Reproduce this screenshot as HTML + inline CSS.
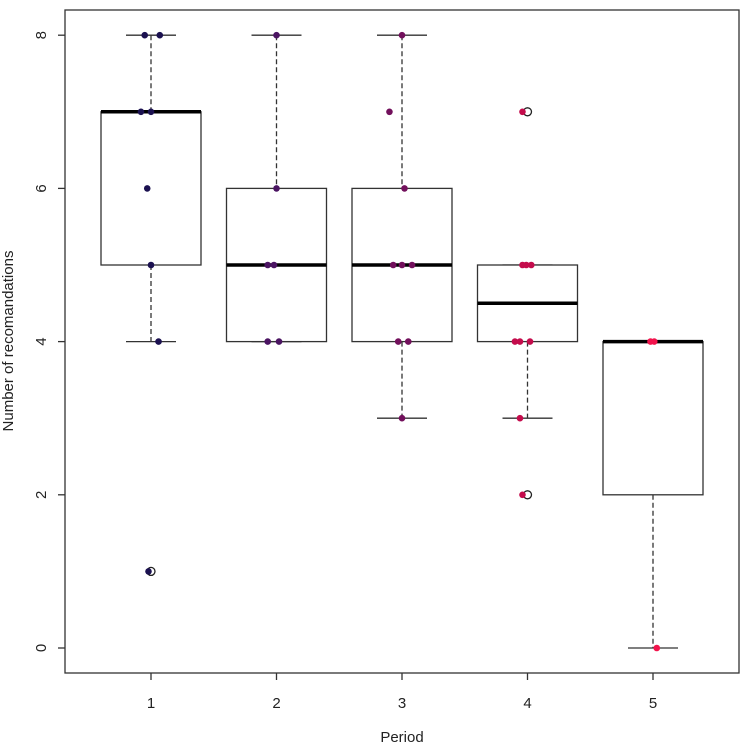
<!DOCTYPE html>
<html><head><meta charset="utf-8"><style>body{margin:0;background:#fff}svg{font-family:"Liberation Sans",sans-serif}</style></head>
<body>
<svg id="c" width="744" height="745"></svg>
<script>
const categories=["1","2","3","4","5"];
const q1=[5,4,4,4,2], med=[7,5,5,4.5,4], q3=[7,6,6,5,4], wLo=[4,4,3,3,0], wHi=[8,8,8,5,4];
const outlierGroup=[0,3,3], outlierVal=[1,7,2];
const ptGroup=[0,0,0,0,0,0,0,0, 1,1,1,1,1,1, 2,2,2,2,2,2,2,2,2, 3,3,3,3,3,3,3,3,3, 4,4,4];
const ptVal=[8,8,7,7,6,5,4,1, 8,6,5,5,4,4, 8,7,6,5,5,5,4,4,3, 7,5,5,5,4,4,4,3,2, 4,4,0];
const ptJit=[-.05,.07,-.08,0,-.03,0,.06,-.02, 0,0,-.07,-.02,-.07,.02, 0,-.1,.02,-.07,0,.08,-.03,.05,0, -.04,-.04,-.01,.03,-.1,-.06,.02,-.06,-.04, -.02,.01,.03];
const yTicks=[0,2,4,6,8];
const colors=["#1b1150","#4b1462","#72105c","#c40c4c","#f2134c"];
const ns="http://www.w3.org/2000/svg", svg=document.getElementById('c');
const X=i=>151+i*125.5, Y=v=>648-v*76.6;
function el(t,a,p){const e=document.createElementNS(ns,t);for(const k in a)e.setAttribute(k,a[k]);(p||svg).appendChild(e);return e;}
const frame=el('rect',{x:65,y:10,width:674,height:663,fill:'none',stroke:'#333','stroke-width':1.3});


categories.forEach((c,i)=>{
  const g=el('g',{});
  
  
  const x=X(i);
  if(wHi[i]>q3[i]){el('line',{x1:x,x2:x,y1:Y(wHi[i]),y2:Y(q3[i]),stroke:'#333','stroke-dasharray':'5,3','stroke-width':1.3},g);}
  if(wLo[i]<q1[i]){el('line',{x1:x,x2:x,y1:Y(q1[i]),y2:Y(wLo[i]),stroke:'#333','stroke-dasharray':'5,3','stroke-width':1.3},g);}
  el('line',{x1:x-25,x2:x+25,y1:Y(wHi[i]),y2:Y(wHi[i]),stroke:'#333','stroke-width':1.3},g);
  el('line',{x1:x-25,x2:x+25,y1:Y(wLo[i]),y2:Y(wLo[i]),stroke:'#333','stroke-width':1.3},g);
  el('rect',{x:x-50,y:Y(q3[i]),width:100,height:Y(q1[i])-Y(q3[i]),fill:'#fff',stroke:'#333','stroke-width':1.3},g);
  el('line',{x1:x-50,x2:x+50,y1:Y(med[i]),y2:Y(med[i]),stroke:'#000','stroke-width':3.5},g);
  el('line',{x1:x,x2:x,y1:673,y2:680,stroke:'#333','stroke-width':1.3});
  const t=el('text',{x:x,y:708,'text-anchor':'middle','font-size':15,fill:'#222'});t.textContent=c;
  
  
});
yTicks.forEach(v=>{
  el('line',{x1:58,x2:65,y1:Y(v),y2:Y(v),stroke:'#333','stroke-width':1.3});
  const t=el('text',{x:46,y:Y(v),'text-anchor':'middle','font-size':15,fill:'#222',transform:`rotate(-90 46 ${Y(v)})`});t.textContent=v;
  
  
});
outlierGroup.forEach((g,k)=>{
  const o=el('circle',{cx:X(g),cy:Y(outlierVal[k]),r:4,fill:'none',stroke:'#222','stroke-width':1.3});
  
  
});
ptGroup.forEach((g,k)=>{
  const p=el('circle',{cx:X(g)+ptJit[k]*125.5,cy:Y(ptVal[k]),r:3.3,fill:colors[g]});
  
  
});
const xl=el('text',{x:402,y:742,'text-anchor':'middle','font-size':15,fill:'#222'});xl.textContent='Period';


const yl=el('text',{x:13,y:341,'text-anchor':'middle','font-size':15,fill:'#222',transform:'rotate(-90 13 341)'});yl.textContent='Number of recomandations';


</script>
</body></html>
